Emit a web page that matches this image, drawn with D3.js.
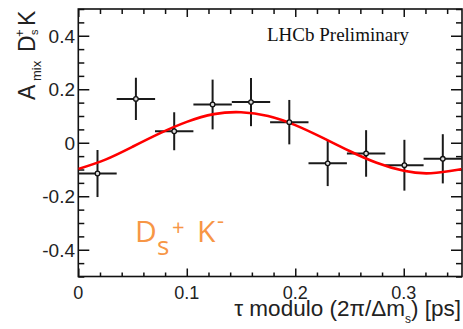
<!DOCTYPE html>
<html><head><meta charset="utf-8">
<script src="https://cdn.jsdelivr.net/npm/d3@7"></script>
<style>html,body{margin:0;padding:0;background:#fff;}svg{display:block;}</style>
</head><body>
<svg id="c" width="463" height="329"></svg>
<script>
// ---- data ----
const binCenters = [0.0177, 0.0531, 0.0884, 0.1238, 0.1592, 0.1945, 0.2299, 0.2653, 0.3006, 0.3360];
const binHalfWidth = 0.0177;
const asymValues = [-0.115, 0.164, 0.043, 0.143, 0.152, 0.077, -0.077, -0.040, -0.084, -0.060];
const asymErrors = [0.088, 0.079, 0.071, 0.093, 0.090, 0.083, 0.085, 0.087, 0.095, 0.092];
const fitT = [0, 0.025, 0.05, 0.075, 0.1, 0.125, 0.15, 0.175, 0.2, 0.225, 0.25, 0.275, 0.3, 0.325, 0.35, 0.3537];
const fitA = [-0.098, -0.063, -0.015, 0.035, 0.078, 0.107, 0.114, 0.100, 0.066, 0.019, -0.031, -0.075, -0.105, -0.114, -0.101, -0.098];
const xTickLabels = ["0", "0.1", "0.2", "0.3"];
const xTickValues = [0, 0.1, 0.2, 0.3];
const yTickLabels = ["-0.4", "-0.2", "0", "0.2", "0.4"];
const yTickValues = [-0.4, -0.2, 0, 0.2, 0.4];

const svg = d3.select("#c");
const x = d3.scaleLinear().domain([0, 0.3537]).range([78.3, 462]);
const y = d3.scaleLinear().domain([-0.5, 0.5]).range([276.5, 9]);

const axisColor = "#111";
const xMinor = d3.range(0, 0.354, 0.02).filter(v => Math.abs(v*10 - Math.round(v*10)) > 1e-6);
const yMinor = d3.range(-0.5, 0.5001, 0.05).filter(v => Math.abs(v*5 - Math.round(v*5)) > 1e-6);

function styleAxis(g){ g.select(".domain").remove(); g.selectAll("line").attr("stroke", axisColor).attr("stroke-width", 1.5); g.selectAll("text").remove(); }
const x0 = 78.3, x1 = 462, yb = y(-0.5), yt = y(0.5);
svg.append("g").attr("transform", `translate(0,${yb})`).call(d3.axisTop(x).tickValues(xTickValues).tickSize(8)).call(styleAxis);
svg.append("g").attr("transform", `translate(0,${yb})`).call(d3.axisTop(x).tickValues(xMinor).tickSize(4)).call(styleAxis);
svg.append("g").attr("transform", `translate(0,${yt})`).call(d3.axisBottom(x).tickValues(xTickValues).tickSize(8)).call(styleAxis);
svg.append("g").attr("transform", `translate(0,${yt})`).call(d3.axisBottom(x).tickValues(xMinor).tickSize(5)).call(styleAxis);
svg.append("g").attr("transform", `translate(${x0},0)`).call(d3.axisRight(y).tickValues(yTickValues).tickSize(11)).call(styleAxis);
svg.append("g").attr("transform", `translate(${x0},0)`).call(d3.axisRight(y).tickValues(yMinor).tickSize(6)).call(styleAxis);
svg.append("g").attr("transform", `translate(${x1},0)`).call(d3.axisLeft(y).tickValues(yTickValues).tickSize(11)).call(styleAxis);
svg.append("g").attr("transform", `translate(${x1},0)`).call(d3.axisLeft(y).tickValues(yMinor).tickSize(6)).call(styleAxis);

svg.append("rect").attr("x", x0).attr("y", yt).attr("width", x1 - x0).attr("height", yb - yt)
  .attr("fill", "none").attr("stroke", axisColor).attr("stroke-width", 1.6);

svg.selectAll(".xl").data(xTickValues).enter().append("text")
  .attr("x", d => x(d)).attr("y", 299).attr("text-anchor", "middle")
  .attr("font-family", "Liberation Sans, Arial, sans-serif").attr("font-size", 18).attr("fill", "#222")
  .text((d, i) => xTickLabels[i]);
svg.selectAll(".yl").data(yTickValues).enter().append("text")
  .attr("x", 75).attr("y", d => y(d) + 7).attr("text-anchor", "end")
  .attr("font-family", "Liberation Sans, Arial, sans-serif").attr("font-size", 19).attr("fill", "#222")
  .text((d, i) => yTickLabels[i]);

const xt = svg.append("text").attr("x", 461).attr("y", 316).attr("text-anchor", "end")
  .attr("font-family", "Liberation Sans, Arial, sans-serif").attr("font-size", 22.5).attr("fill", "#222");
xt.append("tspan").text("τ modulo (2π/Δm");
xt.append("tspan").attr("font-size", 12).attr("dy", 7).text("s");
xt.append("tspan").attr("dy", -7).text(") [ps]");

const yg = svg.append("g").attr("transform", "translate(35,100) rotate(-90)")
  .attr("font-family", "Liberation Sans, Arial, sans-serif").attr("fill", "#222");
yg.append("text").attr("x", 0).attr("y", 0).attr("font-size", 23).text("A");
yg.append("text").attr("x", 19).attr("y", 6).attr("font-size", 13).text("mix");
yg.append("text").attr("x", 48).attr("y", 0).attr("font-size", 23).text("D");
yg.append("text").attr("x", 65).attr("y", 3).attr("font-size", 11).text("s");
yg.append("text").attr("x", 63).attr("y", -11).attr("font-size", 13).text("+");
yg.append("text").attr("x", 74).attr("y", 0).attr("font-size", 23).text("K");

svg.append("text").attr("x", 267).attr("y", 40.7)
  .attr("font-family", "Liberation Serif, Times New Roman, serif").attr("font-size", 19).attr("fill", "#111")
  .text("LHCb Preliminary");

const og = svg.append("g").attr("fill", "#F79646").attr("font-family", "Open Sans, Noto Sans, sans-serif");
og.append("text").attr("x", 135).attr("y", 242).attr("font-size", 30).text("D");
og.append("text").attr("x", 157).attr("y", 255).attr("font-size", 26).text("s");
og.append("text").attr("x", 172).attr("y", 235).attr("font-size", 22).text("+");
og.append("text").attr("x", 197).attr("y", 242).attr("font-size", 30).text("K");
og.append("text").attr("x", 217).attr("y", 228).attr("font-size", 22).text("-");

const pts = binCenters.map((c, i) => ({x: c, y: asymValues[i], e: asymErrors[i]}));
const eb = svg.append("g").attr("stroke", "#1a1a1a").attr("stroke-width", 2);
eb.selectAll(".h").data(pts).enter().append("line")
  .attr("x1", d => x(d.x - binHalfWidth)).attr("x2", d => x(d.x + binHalfWidth))
  .attr("y1", d => y(d.y)).attr("y2", d => y(d.y));
eb.selectAll(".v").data(pts).enter().append("line")
  .attr("x1", d => x(d.x)).attr("x2", d => x(d.x))
  .attr("y1", d => y(d.y - d.e)).attr("y2", d => y(d.y + d.e));

svg.append("defs").append("clipPath").attr("id", "clip").append("rect")
  .attr("x", x0).attr("y", yt).attr("width", x1 - x0).attr("height", yb - yt);
const fit = fitT.map((t, i) => [t, fitA[i]]);
svg.append("path").datum(fit).attr("clip-path", "url(#clip)")
  .attr("fill", "none").attr("stroke", "#ff0000").attr("stroke-width", 2.6)
  .attr("d", d3.line().x(d => x(d[0])).y(d => y(d[1])).curve(d3.curveNatural));

svg.selectAll(".m").data(pts).enter().append("circle")
  .attr("cx", d => x(d.x)).attr("cy", d => y(d.y)).attr("r", 2.3)
  .attr("fill", "#ddd").attr("stroke", "#111").attr("stroke-width", 1.3);
</script>
</body></html>
